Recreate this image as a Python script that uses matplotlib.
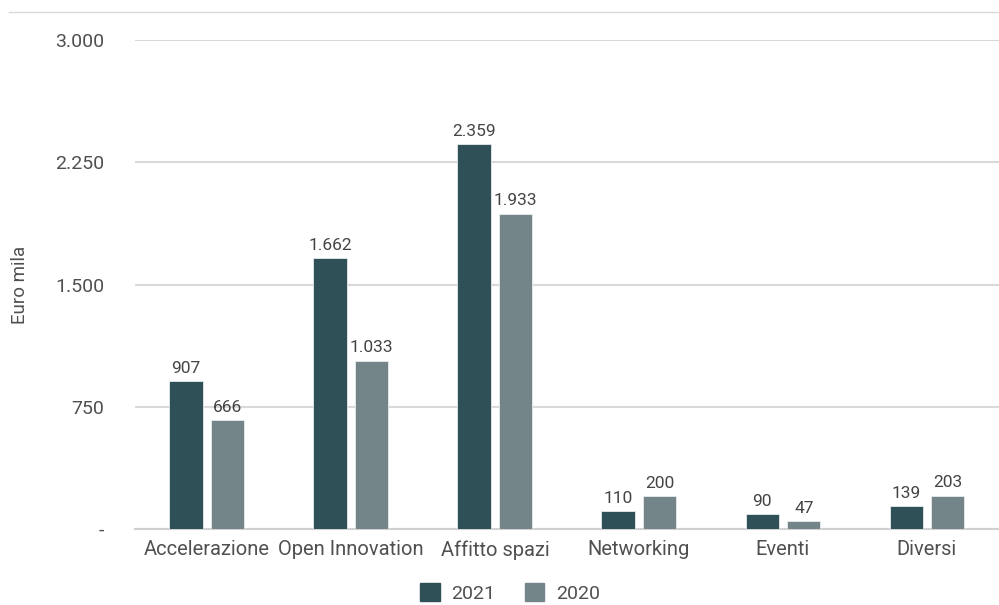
import matplotlib
matplotlib.use("Agg")
import matplotlib.pyplot as plt
import numpy as np
from matplotlib.lines import Line2D
from matplotlib.patches import Patch

categories = ["Accelerazione", "Open Innovation", "Affitto spazi", "Networking", "Eventi", "Diversi"]
values_2021 = [907, 1662, 2359, 110, 90, 139]
values_2020 = [666, 1033, 1933, 200, 47, 203]
y_ticks = [0, 750, 1500, 2250, 3000]
y_tick_labels = ["-", "750", "1.500", "2.250", "3.000"]

c_2021 = "#2e5056"
c_2020 = "#738588"
text_c = "#505050"

plt.rcParams["font.family"] = ["Roboto", "DejaVu Sans"]

fig = plt.figure(figsize=(9.99, 6.05), dpi=100)
ax = fig.add_axes([0.135, 1 - 529 / 605, 0.865, (529 - 40) / 605])

x = np.arange(len(categories))
w = 0.23
off = 0.145
b1 = ax.bar(x - off, values_2021, w, color=c_2021, edgecolor="#e8ecec", linewidth=0.6, zorder=3)
b2 = ax.bar(x + off, values_2020, w, color=c_2020, edgecolor="#e8ecec", linewidth=0.6, zorder=3)


def fmt(v):
    return f"{v:,}".replace(",", ".")


for bars, vals in ((b1, values_2021), (b2, values_2020)):
    for rect, v in zip(bars, vals):
        ax.annotate(fmt(v), (rect.get_x() + rect.get_width() / 2, v),
                    xytext=(0, 4), textcoords="offset points",
                    ha="center", va="bottom", fontsize=12.5, color="#444444")

ax.set_xlim(-0.5, len(categories) - 0.5)
ax.set_ylim(0, 3000)
ax.set_yticks(y_ticks)
ax.set_yticklabels(y_tick_labels)
ax.set_xticks(x)
ax.set_xticklabels(categories)
ax.tick_params(axis="y", length=0, pad=22, labelsize=14, labelcolor=text_c)
ax.tick_params(axis="x", length=0, pad=8, labelsize=14.5, labelcolor=text_c)

ax.grid(axis="y", color="#d9d9d9", linewidth=1.5, zorder=0)
for s in ("top", "right", "left"):
    ax.spines[s].set_visible(False)
ax.spines["bottom"].set_color("#d0d0d0")
ax.spines["bottom"].set_linewidth(1.5)

# axis title placed in figure coordinates
fig.text(20 / 999, 1 - 285 / 605, "Euro mila", rotation=90, ha="center", va="center",
         fontsize=13.5, color=text_c)

# thin top border line
fig.add_artist(Line2D([9 / 999, 1.0], [1 - 12 / 605, 1 - 12 / 605], color="#d9d9d9",
                      linewidth=1, transform=fig.transFigure))

handles = [Patch(color=c_2021, label="2021"), Patch(color=c_2020, label="2020")]
fig.legend(handles=handles, loc="center", bbox_to_anchor=(510 / 999, 1 - 593 / 605),
           ncol=2, frameon=False, fontsize=14, handlelength=1.0, handleheight=1.0,
           handletextpad=0.6, columnspacing=1.5, labelcolor=text_c)

fig.savefig("out.png", dpi=100)
